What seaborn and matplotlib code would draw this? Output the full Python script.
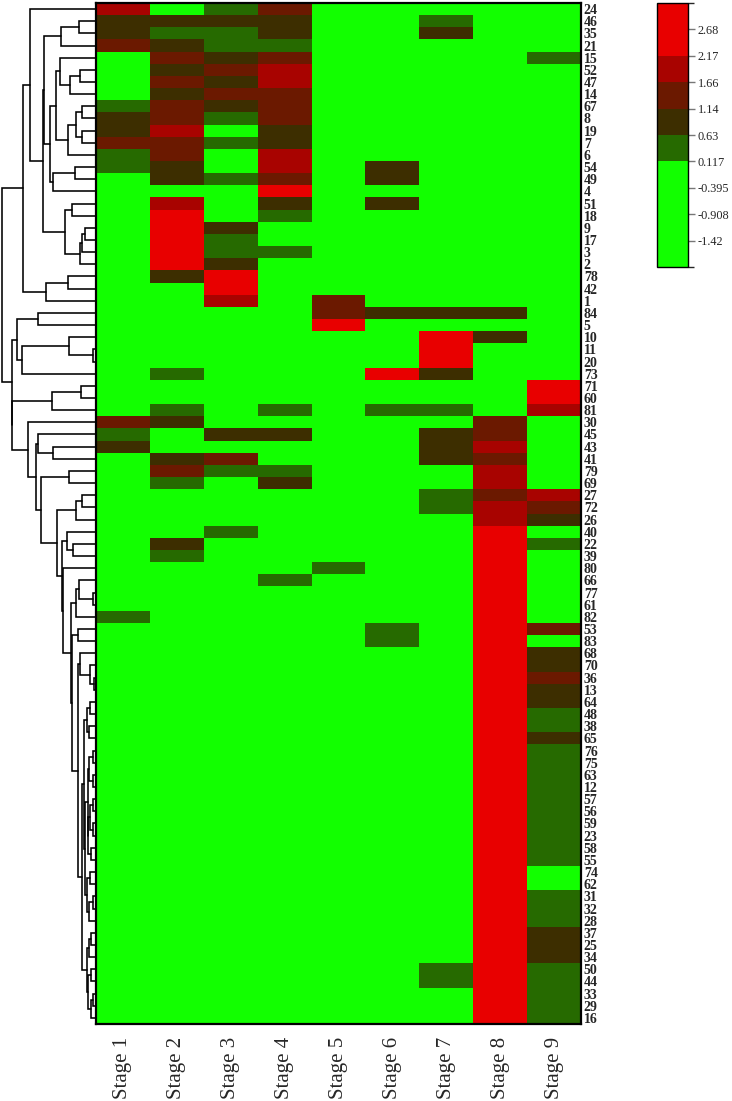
import numpy as np
import pandas as pd
import matplotlib
matplotlib.use("Agg")
import matplotlib.pyplot as plt
from matplotlib.colors import ListedColormap, BoundaryNorm
import seaborn as sns


# ----------------------------------------------------------------------
# DATA (row order follows the dendrogram leaves, top to bottom)
# ----------------------------------------------------------------------
STAGES = ["Stage 1", "Stage 2", "Stage 3", "Stage 4", "Stage 5",
          "Stage 6", "Stage 7", "Stage 8", "Stage 9"]

ROW_LABELS = [24, 46, 35, 21, 15, 52, 47, 14, 67, 8, 19, 7,
              6, 54, 49, 4, 51, 18, 9, 17, 3, 2, 78, 42,
              1, 84, 5, 10, 11, 20, 73, 71, 60, 81, 30, 45,
              43, 41, 79, 69, 27, 72, 26, 40, 22, 39, 80, 66,
              77, 61, 82, 53, 83, 68, 70, 36, 13, 64, 48, 38,
              65, 76, 75, 63, 12, 57, 56, 59, 23, 58, 55, 74,
              62, 31, 32, 28, 37, 25, 34, 50, 44, 33, 29, 16]

STAGE_1 = [1.92, 0.88, 0.88, 1.40, -1.0, -1.0, -1.0, -1.0, 0.37, 0.88, 0.88, 1.40,
           0.37, 0.37, -1.0, -1.0, -1.0, -1.0, -1.0, -1.0, -1.0, -1.0, -1.0, -1.0,
           -1.0, -1.0, -1.0, -1.0, -1.0, -1.0, -1.0, -1.0, -1.0, -1.0, 1.40, 0.37,
           0.88, -1.0, -1.0, -1.0, -1.0, -1.0, -1.0, -1.0, -1.0, -1.0, -1.0, -1.0,
           -1.0, -1.0, 0.37, -1.0, -1.0, -1.0, -1.0, -1.0, -1.0, -1.0, -1.0, -1.0,
           -1.0, -1.0, -1.0, -1.0, -1.0, -1.0, -1.0, -1.0, -1.0, -1.0, -1.0, -1.0,
           -1.0, -1.0, -1.0, -1.0, -1.0, -1.0, -1.0, -1.0, -1.0, -1.0, -1.0, -1.0]

STAGE_2 = [-1.0, 0.88, 0.37, 0.88, 1.40, 0.88, 1.40, 0.88, 1.40, 1.40, 1.92, 1.40,
           1.40, 0.88, 0.88, -1.0, 1.92, 2.90, 2.90, 2.90, 2.90, 2.90, 0.88, -1.0,
           -1.0, -1.0, -1.0, -1.0, -1.0, -1.0, 0.37, -1.0, -1.0, 0.37, 0.88, -1.0,
           -1.0, 0.88, 1.40, 0.37, -1.0, -1.0, -1.0, -1.0, 0.88, 0.37, -1.0, -1.0,
           -1.0, -1.0, -1.0, -1.0, -1.0, -1.0, -1.0, -1.0, -1.0, -1.0, -1.0, -1.0,
           -1.0, -1.0, -1.0, -1.0, -1.0, -1.0, -1.0, -1.0, -1.0, -1.0, -1.0, -1.0,
           -1.0, -1.0, -1.0, -1.0, -1.0, -1.0, -1.0, -1.0, -1.0, -1.0, -1.0, -1.0]

STAGE_3 = [0.37, 0.88, 0.37, 0.37, 0.88, 1.40, 0.88, 1.40, 0.88, 0.37, -1.0, 0.37,
           -1.0, -1.0, 0.37, -1.0, -1.0, -1.0, 0.88, 0.37, 0.37, 0.88, 2.90, 2.90,
           1.92, -1.0, -1.0, -1.0, -1.0, -1.0, -1.0, -1.0, -1.0, -1.0, -1.0, 0.88,
           -1.0, 1.40, 0.37, -1.0, -1.0, -1.0, -1.0, 0.37, -1.0, -1.0, -1.0, -1.0,
           -1.0, -1.0, -1.0, -1.0, -1.0, -1.0, -1.0, -1.0, -1.0, -1.0, -1.0, -1.0,
           -1.0, -1.0, -1.0, -1.0, -1.0, -1.0, -1.0, -1.0, -1.0, -1.0, -1.0, -1.0,
           -1.0, -1.0, -1.0, -1.0, -1.0, -1.0, -1.0, -1.0, -1.0, -1.0, -1.0, -1.0]

STAGE_4 = [1.40, 0.88, 0.88, 0.37, 1.40, 1.92, 1.92, 1.40, 1.40, 1.40, 0.88, 0.88,
           1.92, 1.92, 1.40, 2.90, 0.88, 0.37, -1.0, -1.0, 0.37, -1.0, -1.0, -1.0,
           -1.0, -1.0, -1.0, -1.0, -1.0, -1.0, -1.0, -1.0, -1.0, 0.37, -1.0, 0.88,
           -1.0, -1.0, 0.37, 0.88, -1.0, -1.0, -1.0, -1.0, -1.0, -1.0, -1.0, 0.37,
           -1.0, -1.0, -1.0, -1.0, -1.0, -1.0, -1.0, -1.0, -1.0, -1.0, -1.0, -1.0,
           -1.0, -1.0, -1.0, -1.0, -1.0, -1.0, -1.0, -1.0, -1.0, -1.0, -1.0, -1.0,
           -1.0, -1.0, -1.0, -1.0, -1.0, -1.0, -1.0, -1.0, -1.0, -1.0, -1.0, -1.0]

STAGE_5 = [-1.0, -1.0, -1.0, -1.0, -1.0, -1.0, -1.0, -1.0, -1.0, -1.0, -1.0, -1.0,
           -1.0, -1.0, -1.0, -1.0, -1.0, -1.0, -1.0, -1.0, -1.0, -1.0, -1.0, -1.0,
           1.40, 1.40, 2.90, -1.0, -1.0, -1.0, -1.0, -1.0, -1.0, -1.0, -1.0, -1.0,
           -1.0, -1.0, -1.0, -1.0, -1.0, -1.0, -1.0, -1.0, -1.0, -1.0, 0.37, -1.0,
           -1.0, -1.0, -1.0, -1.0, -1.0, -1.0, -1.0, -1.0, -1.0, -1.0, -1.0, -1.0,
           -1.0, -1.0, -1.0, -1.0, -1.0, -1.0, -1.0, -1.0, -1.0, -1.0, -1.0, -1.0,
           -1.0, -1.0, -1.0, -1.0, -1.0, -1.0, -1.0, -1.0, -1.0, -1.0, -1.0, -1.0]

STAGE_6 = [-1.0, -1.0, -1.0, -1.0, -1.0, -1.0, -1.0, -1.0, -1.0, -1.0, -1.0, -1.0,
           -1.0, 0.88, 0.88, -1.0, 0.88, -1.0, -1.0, -1.0, -1.0, -1.0, -1.0, -1.0,
           -1.0, 0.88, -1.0, -1.0, -1.0, -1.0, 2.90, -1.0, -1.0, 0.37, -1.0, -1.0,
           -1.0, -1.0, -1.0, -1.0, -1.0, -1.0, -1.0, -1.0, -1.0, -1.0, -1.0, -1.0,
           -1.0, -1.0, -1.0, 0.37, 0.37, -1.0, -1.0, -1.0, -1.0, -1.0, -1.0, -1.0,
           -1.0, -1.0, -1.0, -1.0, -1.0, -1.0, -1.0, -1.0, -1.0, -1.0, -1.0, -1.0,
           -1.0, -1.0, -1.0, -1.0, -1.0, -1.0, -1.0, -1.0, -1.0, -1.0, -1.0, -1.0]

STAGE_7 = [-1.0, 0.37, 0.88, -1.0, -1.0, -1.0, -1.0, -1.0, -1.0, -1.0, -1.0, -1.0,
           -1.0, -1.0, -1.0, -1.0, -1.0, -1.0, -1.0, -1.0, -1.0, -1.0, -1.0, -1.0,
           -1.0, 0.88, -1.0, 2.90, 2.90, 2.90, 0.88, -1.0, -1.0, 0.37, -1.0, 0.88,
           0.88, 0.88, -1.0, -1.0, 0.37, 0.37, -1.0, -1.0, -1.0, -1.0, -1.0, -1.0,
           -1.0, -1.0, -1.0, -1.0, -1.0, -1.0, -1.0, -1.0, -1.0, -1.0, -1.0, -1.0,
           -1.0, -1.0, -1.0, -1.0, -1.0, -1.0, -1.0, -1.0, -1.0, -1.0, -1.0, -1.0,
           -1.0, -1.0, -1.0, -1.0, -1.0, -1.0, -1.0, 0.37, 0.37, -1.0, -1.0, -1.0]

STAGE_8 = [-1.0, -1.0, -1.0, -1.0, -1.0, -1.0, -1.0, -1.0, -1.0, -1.0, -1.0, -1.0,
           -1.0, -1.0, -1.0, -1.0, -1.0, -1.0, -1.0, -1.0, -1.0, -1.0, -1.0, -1.0,
           -1.0, 0.88, -1.0, 0.88, -1.0, -1.0, -1.0, -1.0, -1.0, -1.0, 1.40, 1.40,
           1.92, 1.40, 1.92, 1.92, 1.40, 1.92, 1.92, 2.90, 2.90, 2.90, 2.90, 2.90,
           2.90, 2.90, 2.90, 2.90, 2.90, 2.90, 2.90, 2.90, 2.90, 2.90, 2.90, 2.90,
           2.90, 2.90, 2.90, 2.90, 2.90, 2.90, 2.90, 2.90, 2.90, 2.90, 2.90, 2.90,
           2.90, 2.90, 2.90, 2.90, 2.90, 2.90, 2.90, 2.90, 2.90, 2.90, 2.90, 2.90]

STAGE_9 = [-1.0, -1.0, -1.0, -1.0, 0.37, -1.0, -1.0, -1.0, -1.0, -1.0, -1.0, -1.0,
           -1.0, -1.0, -1.0, -1.0, -1.0, -1.0, -1.0, -1.0, -1.0, -1.0, -1.0, -1.0,
           -1.0, -1.0, -1.0, -1.0, -1.0, -1.0, -1.0, 2.90, 2.90, 1.92, -1.0, -1.0,
           -1.0, -1.0, -1.0, -1.0, 1.92, 1.40, 0.88, -1.0, 0.37, -1.0, -1.0, -1.0,
           -1.0, -1.0, -1.0, 1.40, -1.0, 0.88, 0.88, 1.40, 0.88, 0.88, 0.37, 0.37,
           0.88, 0.37, 0.37, 0.37, 0.37, 0.37, 0.37, 0.37, 0.37, 0.37, 0.37, -1.0,
           -1.0, 0.37, 0.37, 0.37, 0.88, 0.88, 0.88, 0.37, 0.37, 0.37, 0.37, 0.37]

# colour scale: band edges and the ticks printed on the colour bar
CBAR_BOUNDS = [-1.93, -1.42, -0.908, -0.395, 0.117, 0.63, 1.14, 1.66, 2.17, 2.68, 3.19]
CBAR_TICKS = [-1.42, -0.908, -0.395, 0.117, 0.63, 1.14, 1.66, 2.17, 2.68]

# row dendrogram: [merge height, left, right],
# leaves are row labels. Built from smaller sub-trees.
TOP_A = [0.380, 15, [0.273, [0.166, 52, 47], 14]]
TOP_B = [0.294, [0.209, [0.144, 67, 8], [0.144, 19, 7]], 6]
TOP_C2 = [0.487, [0.422, TOP_A, TOP_B], [0.455, [0.219, 54, 49], 4]]
TOP_NA = [0.558, [0.369, [0.176, 46, 35], 21], TOP_C2]
TOP_C3 = [0.326, [0.251, 51, 18], [0.166, [0.144, [0.112, 9, 17], 3], 2]]
TOP_T = [0.701, 24, [0.569, TOP_NA, TOP_C3]]
BRANCH_TOP = [0.775, TOP_T, [0.529, [0.294, 78, 42], 1]]

LOW_P = [0.100, [0.060, 64, 48], [0.075, 38, 65]]
LOW_Q1 = [0.090, [0.070, [0.037, 76, 75], [0.027, 63, 12]],
          [0.080, [0.060, [0.037, 57, 56], [0.027, 59, 23]], [0.048, 58, 55]]]
LOW_Q2 = [0.100, [0.059, 74, 62], [0.070, [0.037, 31, 32], 28]]
LOW_B2A = [0.130, LOW_P, [0.115, LOW_Q1, LOW_Q2]]
LOW_B2B = [0.100, [0.070, [0.048, 37, 25], 34],
           [0.085, [0.048, 50, 44], [0.050, [0.027, 33, 29], 16]]]
LOW_B1 = [0.166, 68, [0.066, 70, [0.024, 36, 13]]]
LOW_A3 = [0.195, LOW_B1, [0.148, LOW_B2A, LOW_B2B]]
LOW_M = [0.265, [0.209, [0.183, 66, [0.027, 77, 61]], 82], [0.255, [0.195, 53, 83], LOW_A3]]
LOW_I = [0.361, [0.307, 40, [0.243, 22, 39]], [0.351, 80, LOW_M]]
LOW_H = [0.415, [0.209, [0.144, 27, 72], 26], LOW_I]
LOW_G = [0.722, 30, [0.636, [0.615, 45, [0.455, 43, 41]], [0.586, [0.283, 79, 69], LOW_H]]]
LOW_F1 = [0.843, [0.615, 84, 5], [0.786, [0.283, 10, [0.027, 11, 20]], 73]]
BRANCH_LOW = [0.896, LOW_F1, [0.890, [0.465, [0.155, 71, 60], 81], LOW_G]]

TREE = [1.0, BRANCH_TOP, BRANCH_LOW]


# ----------------------------------------------------------------------
# STYLE
# ----------------------------------------------------------------------
sns.set_theme(style="white")
plt.rcParams["font.family"] = ["Liberation Serif", "DejaVu Serif"]

BAND_COLORS = ["#12ff00", "#12ff00", "#12ff00", "#12ff00",
               "#266a00", "#3d2e00", "#6b1900", "#a80300",
               "#e80000", "#e80000"]

W, H = 732, 1101


def fx(px):
    return px / W


def fy(px):
    return 1 - px / H


# ----------------------------------------------------------------------
# DENDROGRAM
# ----------------------------------------------------------------------
def draw_node(ax, node):
    if not isinstance(node, list):
        return ROW_LABELS.index(node) + 0.5, 0.0
    h, left, right = node
    y1, h1 = draw_node(ax, left)
    y2, h2 = draw_node(ax, right)
    ax.plot([h1, h, h, h2], [y1, y1, y2, y2], color="black", lw=1.15,
            solid_joinstyle="miter", clip_on=False)
    return (y1 + y2) / 2, h


def main():
    df = pd.DataFrame({
        "Stage 1": STAGE_1, "Stage 2": STAGE_2, "Stage 3": STAGE_3,
        "Stage 4": STAGE_4, "Stage 5": STAGE_5, "Stage 6": STAGE_6,
        "Stage 7": STAGE_7, "Stage 8": STAGE_8, "Stage 9": STAGE_9,
    }, index=ROW_LABELS)[STAGES]

    cmap = ListedColormap(BAND_COLORS)
    norm = BoundaryNorm(CBAR_BOUNDS, cmap.N)

    fig = plt.figure(figsize=(W / 100, H / 100), dpi=100)
    top, bottom = 3, 1024
    ax_heat = fig.add_axes([fx(96), fy(bottom), fx(581) - fx(96), fy(top) - fy(bottom)])
    ax_tree = fig.add_axes([0, fy(bottom), fx(96), fy(top) - fy(bottom)])
    ax_cbar = fig.add_axes([fx(657), fy(267), fx(31), fy(3) - fy(267)])

    sns.heatmap(df, ax=ax_heat, cmap=cmap, norm=norm, cbar_ax=ax_cbar,
                xticklabels=STAGES, yticklabels=ROW_LABELS, linewidths=0)

    # heatmap frame and ticks
    for sp in ax_heat.spines.values():
        sp.set_visible(True)
        sp.set_color("black")
        sp.set_linewidth(1.6)
    ax_heat.yaxis.tick_right()
    ax_heat.tick_params(axis="y", length=0, pad=2)
    ax_heat.tick_params(axis="x", direction="in", length=7, width=1.2,
                        color="black", pad=9, bottom=True)
    ax_heat.set_xticklabels(STAGES, rotation=90, fontsize=15)
    ax_heat.set_yticklabels(ROW_LABELS, rotation=0, fontsize=10, fontweight="bold")
    ax_heat.set_xlabel("")
    ax_heat.set_ylabel("")

    # colour bar
    cbar = ax_heat.collections[0].colorbar
    cbar.set_ticks(CBAR_TICKS)
    cbar.set_ticklabels([f"{t:g}" for t in CBAR_TICKS])
    cbar.outline.set_edgecolor("black")
    cbar.outline.set_linewidth(1.0)
    ax_cbar.tick_params(axis="y", length=5, width=1, color="#777777",
                        labelsize=8.8, pad=2, right=True)

    # row dendrogram
    draw_node(ax_tree, TREE)
    ax_tree.set_ylim(len(ROW_LABELS), 0)
    ax_tree.set_xlim(1.0 + 2 / 94, 0)
    ax_tree.axis("off")

    fig.savefig("out.png", dpi=100)
    plt.close(fig)


if __name__ == "__main__":
    main()
